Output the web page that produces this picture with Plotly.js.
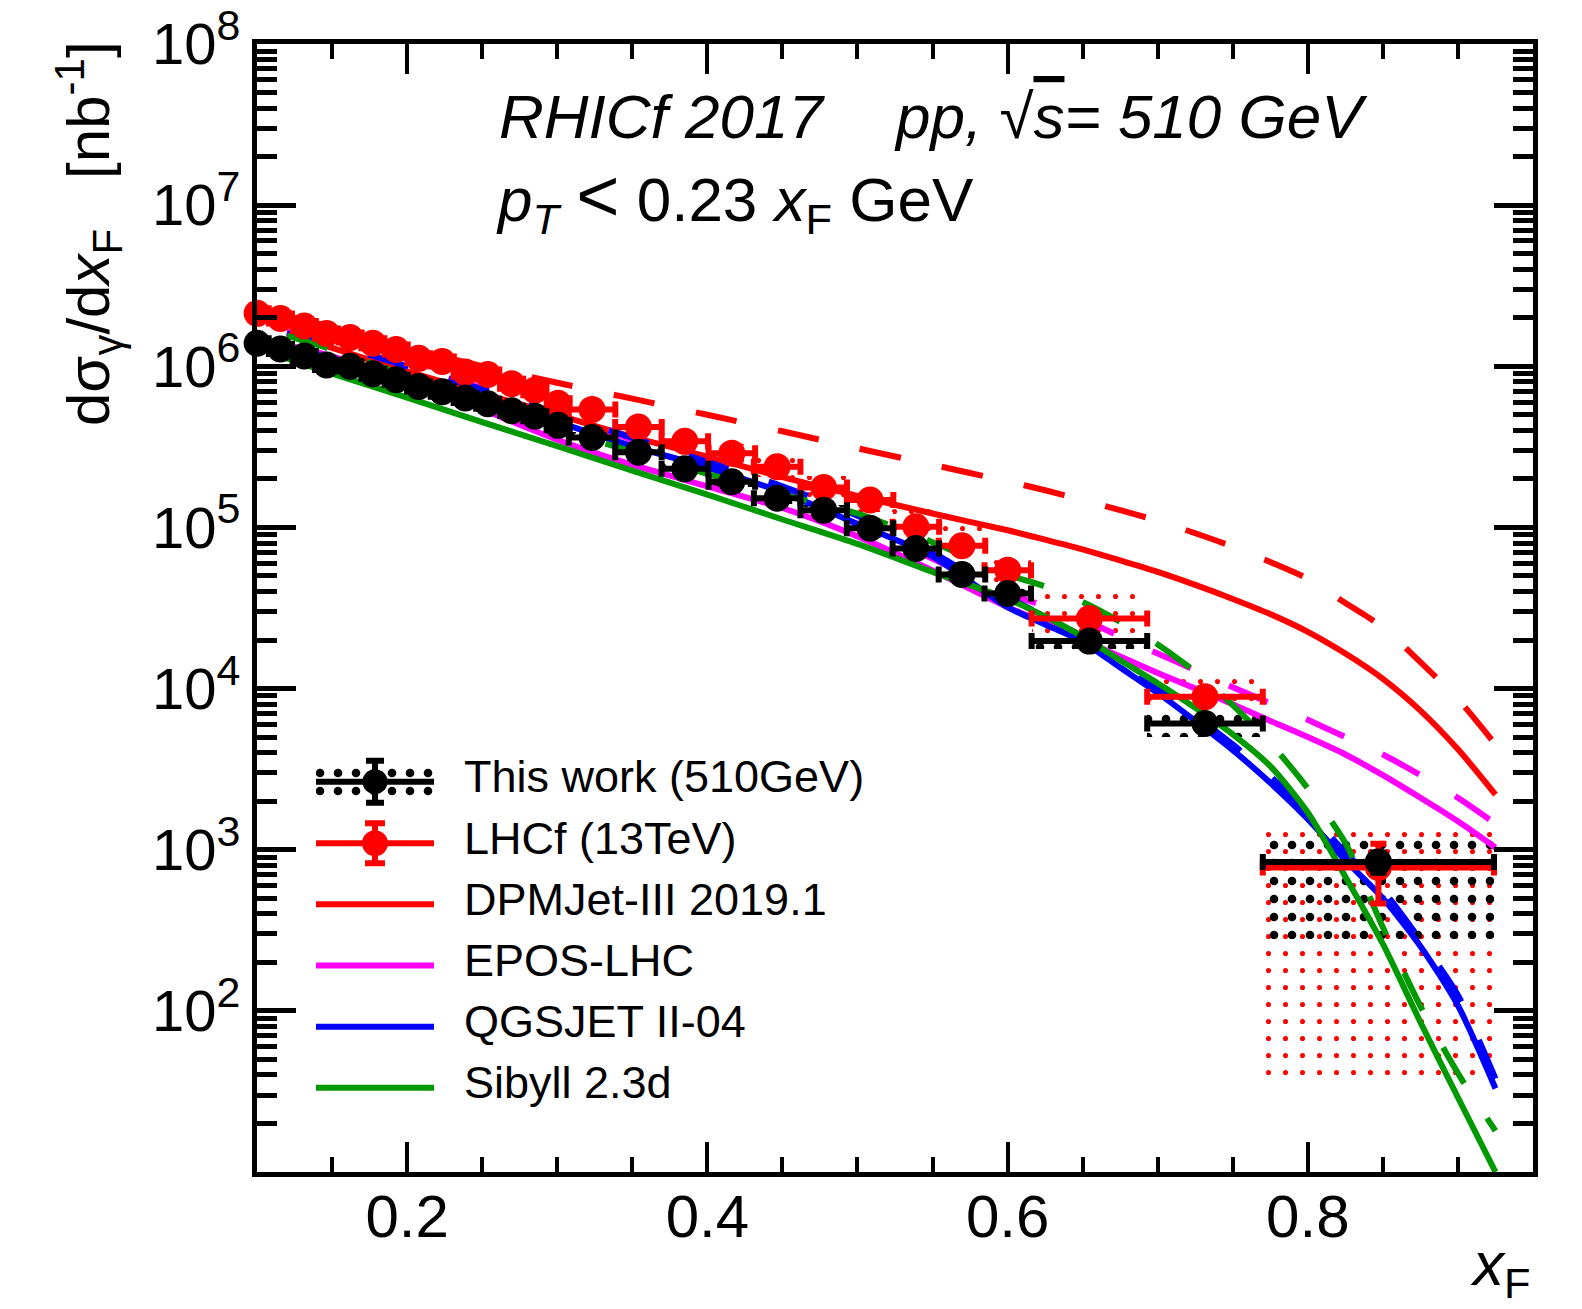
<!DOCTYPE html>
<html>
<head>
<meta charset="utf-8">
<script src="https://cdn.plot.ly/plotly-3.0.1.min.js"></script>
<style>
html,body{margin:0;padding:0;background:#ffffff;}
#chart{width:1582px;height:1309px;}
</style>
</head>
<body>
<div id="chart"></div>
<script>
// ---------------- data ----------------
const xF = [0.1001,0.1156,0.1315,0.1463,0.1620,0.1772,0.1927,0.2077,0.2234,0.2387,0.2537,0.2696,0.2851,0.3006,
            0.3232,0.3541,0.3850,0.4163,0.4465,0.4775,0.5084,0.5389,0.5696,0.6001,0.6545,0.7315,0.8470];
const xHalf = [0.0077,0.0077,0.0077,0.0077,0.0077,0.0077,0.0077,0.0077,0.0077,0.0077,0.0077,0.0077,0.0077,0.0077,
               0.0155,0.0155,0.0155,0.0155,0.0155,0.0155,0.0155,0.0155,0.0155,0.0155,0.0385,0.0385,0.0770];

const thisWork = [1.39e6,1.28e6,1.16e6,1.02e6,1.00e6,9.0e5,8.25e5,7.5e5,6.95e5,6.35e5,5.85e5,5.3e5,4.9e5,4.3e5,
                  3.62e5,2.93e5,2.31e5,1.92e5,1.52e5,1.28e5,9.9e4,7.4e4,5.1e4,3.89e4,1.97e4,6.07e3,840];
const thisWorkStat = [1.4e4,1.3e4,1.2e4,1.0e4,1.0e4,9e3,8e3,8e3,7e3,6e3,6e3,5e3,5e3,4e3,
                      4e3,3e3,3e3,2e3,2e3,2e3,1.5e3,1.2e3,1.0e3,8e2,6e2,3e2,120];
const thisWorkSysLo = [1.29e6,1.19e6,1.08e6,9.5e5,9.3e5,8.4e5,7.7e5,7.0e5,6.5e5,5.9e5,5.4e5,4.9e5,4.6e5,4.0e5,
                       3.35e5,2.7e5,2.13e5,1.77e5,1.4e5,1.18e5,9.1e4,6.8e4,4.7e4,3.58e4,1.77e4,5.0e3,281];
const thisWorkSysHi = [1.49e6,1.37e6,1.24e6,1.09e6,1.07e6,9.6e5,8.8e5,8.0e5,7.4e5,6.8e5,6.3e5,5.7e5,5.2e5,4.6e5,
                       3.9e5,3.15e5,2.5e5,2.07e5,1.64e5,1.38e5,1.07e5,8.0e4,5.5e4,4.2e4,2.2e4,7.0e3,1230];

const lhcf = [2.13e6,1.98e6,1.78e6,1.60e6,1.51e6,1.39e6,1.27e6,1.12e6,1.07e6,9.2e5,8.9e5,7.8e5,7.1e5,5.9e5,
              5.4e5,4.2e5,3.42e5,2.89e5,2.38e5,1.77e5,1.48e5,1.01e5,7.7e4,5.43e4,2.72e4,8.9e3,776];
const lhcfStat = [2.1e4,2.0e4,1.8e4,1.6e4,1.5e4,1.4e4,1.3e4,1.1e4,1.1e4,9e3,9e3,8e3,7e3,6e3,
                  5e3,4e3,3.4e3,2.9e3,2.4e3,1.8e3,1.5e3,1.0e3,8e2,5.5e2,4e2,2e2,312];
const lhcfSysLo = [1.92e6,1.78e6,1.6e6,1.44e6,1.36e6,1.25e6,1.14e6,1.0e6,9.6e5,8.3e5,8.0e5,7.0e5,6.4e5,5.3e5,
                   4.8e5,3.7e5,3.0e5,2.5e5,2.05e5,1.5e5,1.25e5,8.5e4,6.4e4,4.5e4,2.1e4,7.2e3,38.9];
const lhcfSysHi = [2.34e6,2.18e6,1.96e6,1.76e6,1.66e6,1.53e6,1.40e6,1.23e6,1.18e6,1.01e6,9.8e5,8.6e5,7.8e5,6.5e5,
                   6.0e5,4.7e5,3.9e5,3.3e5,2.75e5,2.1e5,1.83e5,1.3e5,1.02e5,7.2e4,3.9e4,1.33e4,1320];

const modelX    = [0.12,0.15,0.2,0.25,0.3,0.35,0.4,0.45,0.5,0.55,0.6,0.625,0.65,0.675,0.7,0.725,0.75,0.775,0.8,0.825,0.85,0.875,0.9,0.925];
const dpmjet510 = [1.6e6,1.3e6,9.3e5,6.8e5,5.0e5,3.65e5,2.75e5,2.05e5,1.57e5,1.22e5,9.6e4,8.4e4,7.3e4,6.25e4,5.3e4,4.4e4,3.6e4,2.9e4,2.25e4,1.65e4,1.15e4,7.3e3,4.2e3,2.2e3];
const dpmjet13  = [2.05e6,1.75e6,1.3e6,1.0e6,7.9e5,6.3e5,5.0e5,3.95e5,3.1e5,2.45e5,1.93e5,1.7e5,1.48e5,1.28e5,1.1e5,9.2e4,7.6e4,6.1e4,4.8e4,3.4e4,2.4e4,1.46e4,8.6e3,4.5e3];
const epos510   = [1.35e6,1.15e6,8.0e5,5.4e5,3.5e5,2.45e5,1.8e5,1.32e5,8.8e4,5.4e4,3.2e4,2.55e4,2.0e4,1.58e4,1.25e4,1.0e4,8.0e3,6.3e3,5.0e3,3.9e3,2.9e3,2.1e3,1.5e3,1.03e3];
const epos13    = [1.65e6,1.4e6,1.0e6,7.3e5,5.0e5,3.5e5,2.45e5,1.65e5,1.05e5,6.4e4,3.9e4,3.25e4,2.7e4,2.1e4,1.65e4,1.3e4,1.02e4,8.1e3,6.4e3,5.0e3,3.9e3,2.9e3,2.1e3,1.45e3];
const qgsjet510 = [1.3e6,1.12e6,8.6e5,6.2e5,4.5e5,3.2e5,2.35e5,1.65e5,1.05e5,6.6e4,3.2e4,2.5e4,1.95e4,1.35e4,9.4e3,6.3e3,4.15e3,2.6e3,1.55e3,860,500,252,108,33];
const qgsjet13  = [1.6e6,1.38e6,1.0e6,7.2e5,5.1e5,3.6e5,2.55e5,1.8e5,1.18e5,7.0e4,3.7e4,2.8e4,2.1e4,1.45e4,1.02e4,6.8e3,4.5e3,2.85e3,1.72e3,960,560,275,125,38];
const sibyll510 = [1.12e6,9.0e5,6.4e5,4.5e5,3.2e5,2.25e5,1.6e5,1.12e5,7.9e4,5.3e4,3.6e4,2.8e4,2.1e4,1.5e4,1.08e4,7.6e3,5.2e3,3.3e3,1.7e3,680,260,85,29,10];
const sibyll13  = [1.55e6,1.27e6,8.7e5,6.0e5,4.1e5,2.95e5,2.15e5,1.6e5,1.22e5,8.1e4,5.1e4,4.3e4,3.45e4,2.6e4,1.88e4,1.27e4,7.9e3,4.6e3,2.4e3,1.1e3,330,107,41,18];

const legendLabels = ["This work (510GeV)","LHCf (13TeV)","DPMJet-III 2019.1","EPOS-LHC","QGSJET II-04","Sibyll 2.3d"];

const xTickVals = [0.2,0.4,0.6,0.8];
const xTickText = ["0.2","0.4","0.6","0.8"];
const xMinorVals = [0.15,0.25,0.3,0.35,0.45,0.5,0.55,0.65,0.7,0.75,0.85,0.9];
const yTickVals = [1e2,1e3,1e4,1e5,1e6,1e7,1e8];
const yTickExp  = ["2","3","4","5","6","7","8"];

// ---------------- styling ----------------
const FONT = '"Liberation Sans", Arial, Helvetica, sans-serif';
const RED = '#ff0000', MAG = '#ff00ff', BLUE = '#0000ff', GREEN = '#009900', BLACK = '#000000';
const DASH = '42px,42px';
const LW = 6;

const yTickText = yTickExp.map(e => '10<sup><span style="font-size:43px">' + e + '</span></sup>');
const yMinorVals = [];
for (let e = 1; e < 8; e++) for (let m = 2; m <= 9; m++) yMinorVals.push(m * Math.pow(10, e));

function diff(hi, lo){ return hi.map((v,i)=>v-lo[i]); }
function dbl(a){ return a.map(v=>2*v); }

const traces = [];

// systematic boxes (dotted pattern)
traces.push({type:'bar', x:xF, width:dbl(xHalf), base:lhcfSysLo, y:diff(lhcfSysHi,lhcfSysLo),
  marker:{color:RED, line:{width:0}, pattern:{shape:'.', fgcolor:RED, bgcolor:'rgba(0,0,0,0)', size:17, solidity:0.07, fillmode:'replace'}},
  hoverinfo:'skip'});
traces.push({type:'bar', x:xF, width:dbl(xHalf), base:thisWorkSysLo, y:diff(thisWorkSysHi,thisWorkSysLo),
  marker:{color:BLACK, line:{width:0}, pattern:{shape:'.', fgcolor:BLACK, bgcolor:'rgba(0,0,0,0)', size:18, solidity:0.18, fillmode:'replace'}},
  hoverinfo:'skip'});

// model curves
const models = [
  [dpmjet510, RED, 'solid'], [dpmjet13, RED, DASH],
  [epos510, MAG, 'solid'],   [epos13, MAG, DASH],
  [qgsjet510, BLUE, 'solid'],[qgsjet13, BLUE, DASH],
  [sibyll510, GREEN, 'solid'],[sibyll13, GREEN, DASH]
];
models.forEach(m => {
  traces.push({type:'scatter', mode:'lines', x:modelX, y:m[0],
    line:{color:m[1], width:LW, dash:m[2], shape:'spline', smoothing:0.7}, hoverinfo:'skip'});
});

// LHCf points
traces.push({type:'scatter', mode:'markers', x:xF, y:lhcf, cliponaxis:false,
  marker:{color:RED, size:27, line:{width:0}},
  error_x:{type:'data', array:xHalf, color:RED, thickness:6, width:8},
  error_y:{type:'data', array:lhcfStat, color:RED, thickness:6, width:8}});
// This work points
traces.push({type:'scatter', mode:'markers', x:xF, y:thisWork, cliponaxis:false,
  marker:{color:BLACK, size:27, line:{width:0}},
  error_x:{type:'data', array:xHalf, color:BLACK, thickness:6, width:8},
  error_y:{type:'data', array:thisWorkStat, color:BLACK, thickness:6, width:8}});

// ---------------- legend samples (pixel overlay axes) ----------------
const legRows = [781.7, 843.3, 904.3, 965.5, 1026.7, 1087.8];
const legX0 = 316, legX1 = 434, legXc = 375, legText = 462;
traces.push({type:'bar', xaxis:'x2', yaxis:'y2', x:[legXc], width:[legX1-legX0], base:[762], y:[38],
  marker:{color:BLACK, line:{width:0}, pattern:{shape:'.', fgcolor:BLACK, bgcolor:'rgba(0,0,0,0)', size:18, solidity:0.18, fillmode:'replace'}},
  hoverinfo:'skip'});
const legColors = [BLACK, RED, RED, MAG, BLUE, GREEN];
legColors.forEach((c,i) => {
  traces.push({type:'scatter', mode:'lines', xaxis:'x2', yaxis:'y2', x:[legX0,legX1], y:[legRows[i],legRows[i]],
    line:{color:c, width:LW}, hoverinfo:'skip', cliponaxis:false});
});
traces.push({type:'scatter', mode:'markers', xaxis:'x2', yaxis:'y2', x:[legXc], y:[legRows[0]], cliponaxis:false,
  marker:{color:BLACK, size:25}, error_y:{type:'data', array:[21], color:BLACK, thickness:6, width:9}, hoverinfo:'skip'});
traces.push({type:'scatter', mode:'markers', xaxis:'x2', yaxis:'y2', x:[legXc], y:[legRows[1]], cliponaxis:false,
  marker:{color:RED, size:26}, error_y:{type:'data', array:[20], color:RED, thickness:6, width:10}, hoverinfo:'skip'});

const annotations = [];
legendLabels.forEach((t,i) => {
  annotations.push({xref:'x2', yref:'y2', x:legText, y:legRows[i] - 5, xanchor:'left', yanchor:'middle',
    text:t, showarrow:false, font:{family:FONT, size:45, color:BLACK}});
});
annotations.push({xref:'x2', yref:'y2', x:497, y:116, xanchor:'left', yanchor:'middle', showarrow:false,
  text:'<i>RHICf 2017</i>', font:{family:FONT, size:62, color:BLACK}});
annotations.push({xref:'x2', yref:'y2', x:892, y:116, xanchor:'left', yanchor:'middle', showarrow:false,
  text:'<i>pp, √<span style="text-decoration:overline">s</span>= 510 GeV</i>', font:{family:FONT, size:62, color:BLACK}});
annotations.push({xref:'x2', yref:'y2', x:494, y:198, xanchor:'left', yanchor:'middle', showarrow:false,
  text:'<i>p</i><sub><i>T</i></sub>&nbsp;<span style="font-size:74px">&lt;</span> 0.23 <i>x</i><sub>F</sub>&nbsp;GeV', font:{family:FONT, size:62, color:BLACK}});
// axis titles (paper coordinates, outside the plot frame)
annotations.push({xref:'paper', yref:'paper', x:(88-257)/1276, y:(1172-234)/1128, xanchor:'center', yanchor:'middle',
  showarrow:false, textangle:-90,
  text:'dσ<sub>γ</sub>/d<i>x</i><sub>F</sub>&nbsp;&nbsp; [nb<sup>-1</sup>]', font:{family:FONT, size:60, color:BLACK}});
annotations.push({xref:'paper', yref:'paper', x:1.0, y:(1172-1268)/1128, xanchor:'right', yanchor:'middle',
  showarrow:false, text:'<i>x</i><sub>F</sub>', font:{family:FONT, size:62, color:BLACK}});

const axisCommon = {showgrid:false, zeroline:false, showline:true, linewidth:5, linecolor:BLACK,
  mirror:'allticks', ticks:'inside', tickcolor:BLACK, fixedrange:true};

const layout = {
  width:1582, height:1309,
  margin:{l:257, r:49, t:44, b:137, pad:0},
  paper_bgcolor:'#ffffff', plot_bgcolor:'#ffffff',
  showlegend:false, barmode:'overlay', bargap:0,
  font:{family:FONT, color:BLACK},
  xaxis:Object.assign({}, axisCommon, {type:'linear', range:[0.1,0.95],
    tickmode:'array', tickvals:xTickVals, ticktext:xTickText, ticklen:30, tickwidth:4,
    ticklabelstandoff:-12,
    tickfont:{family:FONT, size:60, color:BLACK},
    minor:{tickmode:'array', tickvals:xMinorVals, ticks:'inside', ticklen:15, tickwidth:4, tickcolor:BLACK, showgrid:false}}),
  yaxis:Object.assign({}, axisCommon, {type:'log', range:[1,8],
    tickmode:'array', tickvals:yTickVals, ticktext:yTickText, ticklen:39, tickwidth:5,
    tickfont:{family:FONT, size:58, color:BLACK},
    minor:{tickmode:'array', tickvals:yMinorVals, ticks:'inside', ticklen:20, tickwidth:5, tickcolor:BLACK, showgrid:false}}),
  xaxis2:{overlaying:'x', anchor:'y2', range:[257,1533], visible:false, fixedrange:true},
  yaxis2:{overlaying:'y', anchor:'x2', range:[1172,44], visible:false, fixedrange:true},
  annotations:annotations
};

Plotly.newPlot('chart', traces, layout, {staticPlot:true, displayModeBar:false});
</script>
</body>
</html>
